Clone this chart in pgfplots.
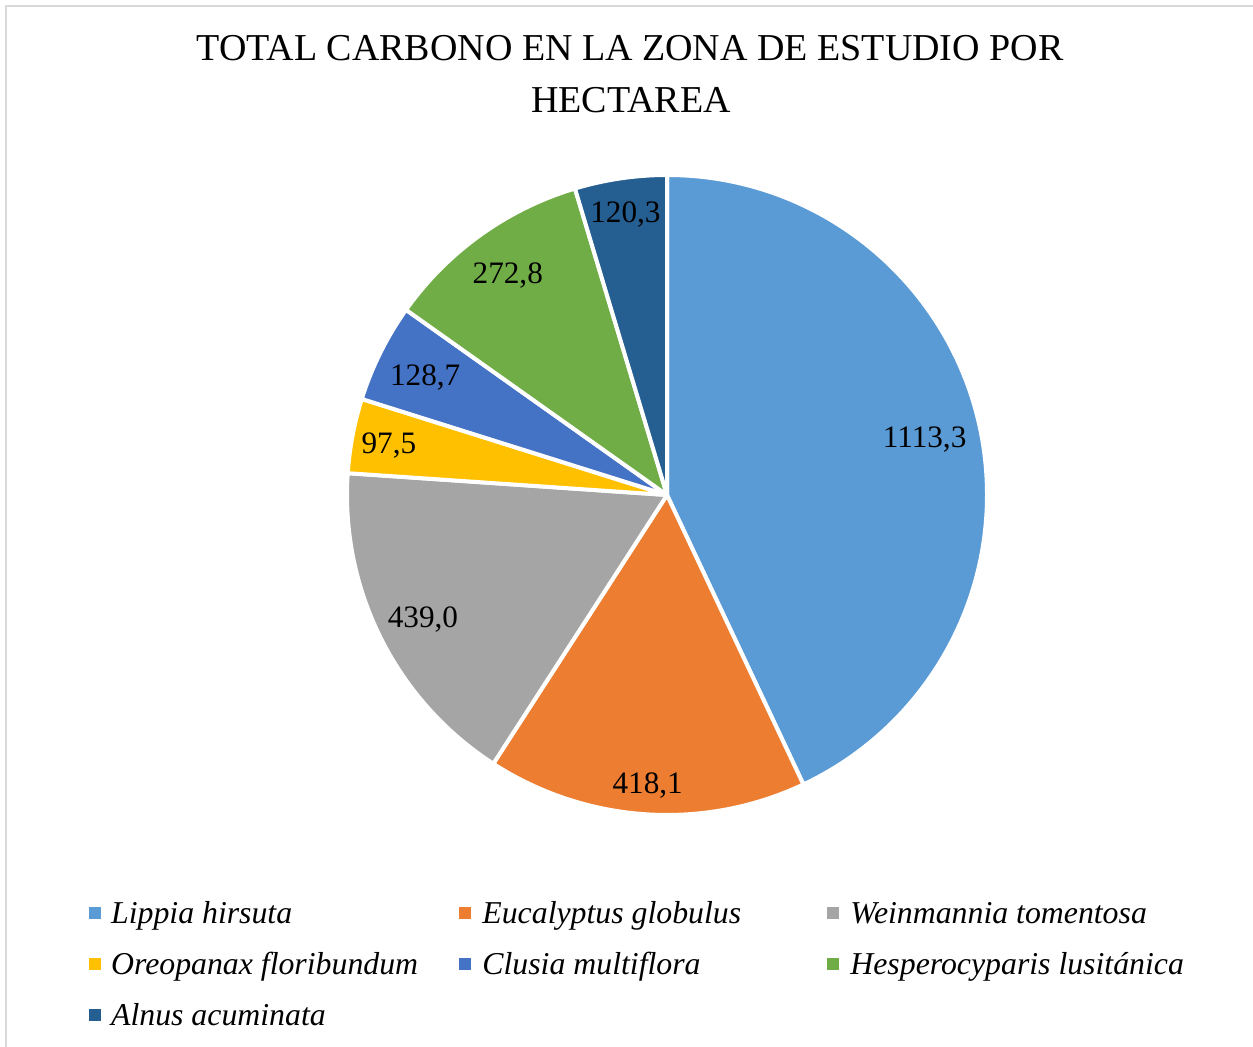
\documentclass[border=0pt]{standalone}
\usepackage{fontspec}
\setmainfont{Liberation Serif}
\usepackage{pgfplots}
\usepackage{pgfplotstable}
\pgfplotsset{compat=1.18}

\definecolor{pie0}{HTML}{5B9BD5}
\definecolor{pie1}{HTML}{ED7D31}
\definecolor{pie2}{HTML}{A5A5A5}
\definecolor{pie3}{HTML}{FFC000}
\definecolor{pie4}{HTML}{4472C4}
\definecolor{pie5}{HTML}{70AD47}
\definecolor{pie6}{HTML}{255E91}
\definecolor{framegray}{HTML}{D9D9D9}

\newcommand\titlefont{\fontsize{19}{22}\selectfont}
\newcommand\labfont{\fontsize{15.6}{18}\selectfont}
\newcommand\legfont{\fontsize{15.9}{18}\selectfont}

\pgfkeys{/pgf/number format/.cd, fixed, fixed zerofill, precision=1,
  use comma, 1000 sep={}, assume math mode=true}

% value; lr = distance of the data label from the centre (px)
\pgfplotstableread[col sep=comma]{
name,value,lr
Lippia hirsuta,1113.3,264
Eucalyptus globulus,418.1,289
Weinmannia tomentosa,439.0,273
Oreopanax floribundum,97.5,283
Clusia multiflora,128.7,270
Hesperocyparis lusitánica,272.8,273
Alnus acuminata,120.3,286
}\piedata

% total of all slices
\def\total{0}
\pgfplotsforeachungrouped \i in {0,...,6}{%
  \pgfplotstablegetelem{\i}{value}\of\piedata
  \pgfmathsetmacro\total{\total+\pgfplotsretval}%
}

% angles (clockwise from the top), label and legend places
\def\cum{0}
\pgfplotsforeachungrouped \i in {0,...,6}{%
  \pgfplotstablegetelem{\i}{value}\of\piedata
  \expandafter\xdef\csname v\i\endcsname{\pgfplotsretval}%
  \pgfmathsetmacro\angS{90-360*(\cum/\total)}%
  \pgfmathsetmacro\cum{\cum+\pgfplotsretval}%
  \pgfmathsetmacro\angE{90-360*(\cum/\total)}%
  \pgfmathsetmacro\angM{(\angS+\angE)/2}%
  \expandafter\xdef\csname sa\i\endcsname{\angS}%
  \expandafter\xdef\csname ea\i\endcsname{\angE}%
  \expandafter\xdef\csname ma\i\endcsname{\angM}%
  \pgfplotstablegetelem{\i}{lr}\of\piedata
  \pgfmathsetmacro\lrpt{\pgfplotsretval/2}%
  \expandafter\xdef\csname lr\i\endcsname{\lrpt}%
  \pgfplotstablegetelem{\i}{name}\of\piedata
  \expandafter\xdef\csname nm\i\endcsname{\pgfplotsretval}%
  \pgfmathtruncatemacro\col{mod(\i,3)}%
  \pgfmathtruncatemacro\row{int(\i/3)}%
  \pgfmathsetmacro\sqx{{95,465.3,833}[\col]}%
  \pgfmathsetmacro\txx{{110.7,482,850}[\col]}%
  \pgfmathsetmacro\bly{923.3+50.9*\row}%
  \expandafter\xdef\csname sx\i\endcsname{\sqx}%
  \expandafter\xdef\csname tx\i\endcsname{\txx}%
  \expandafter\xdef\csname by\i\endcsname{\bly}%
}

\begin{document}
\begin{tikzpicture}
\begin{axis}[
  width=626.5pt, height=523.5pt, scale only axis,
  xmin=0, xmax=1253, ymin=0, ymax=1047, y dir=reverse,
  axis lines=none, clip=false,
]
\draw[framegray, line width=1pt] (axis cs:6,1047) -- (axis cs:6,6) -- (axis cs:1253,6);

\node[anchor=base, inner sep=0pt, font=\titlefont] at (axis cs:630,61) {TOTAL CARBONO EN LA ZONA DE ESTUDIO POR};
\node[anchor=base, inner sep=0pt, font=\titlefont] at (axis cs:631,112.5) {HECTAREA};

% slices
\pgfplotsinvokeforeach{0,...,6}{
  \edef\tmp{\noexpand\fill[pie#1, draw=white, line width=2pt, line join=round]
    (axis cs:667,495) -- ++(\csname sa#1\endcsname:160pt)
    arc[start angle=\csname sa#1\endcsname, end angle=\csname ea#1\endcsname, radius=160pt] -- cycle;}\tmp
}

% data labels (digits centred on the point)
\pgfplotsinvokeforeach{0,...,6}{
  \edef\tmp{\noexpand\path (axis cs:667,495) ++(\csname ma#1\endcsname:\csname lr#1\endcsname pt) ++(0,-5.3pt)
    node[anchor=base, inner sep=0pt, font=\noexpand\labfont]
    {\noexpand\pgfmathprintnumber{\csname v#1\endcsname}};}\tmp
}

% legend
\pgfplotsinvokeforeach{0,...,6}{
  \edef\tmp{\noexpand\node[fill=pie#1, inner sep=0pt, minimum size=6pt]
    at (axis cs:\csname sx#1\endcsname,\csname by#1\endcsname-10.3) {};
    \noexpand\node[anchor=base west, inner sep=0pt, font=\noexpand\legfont\noexpand\itshape]
    at (axis cs:\csname tx#1\endcsname,\csname by#1\endcsname) {\csname nm#1\endcsname};}\tmp
}
\end{axis}
\pgfresetboundingbox
\path[use as bounding box] (0,0) rectangle (626.5pt,523.5pt);
\end{tikzpicture}
\end{document}
